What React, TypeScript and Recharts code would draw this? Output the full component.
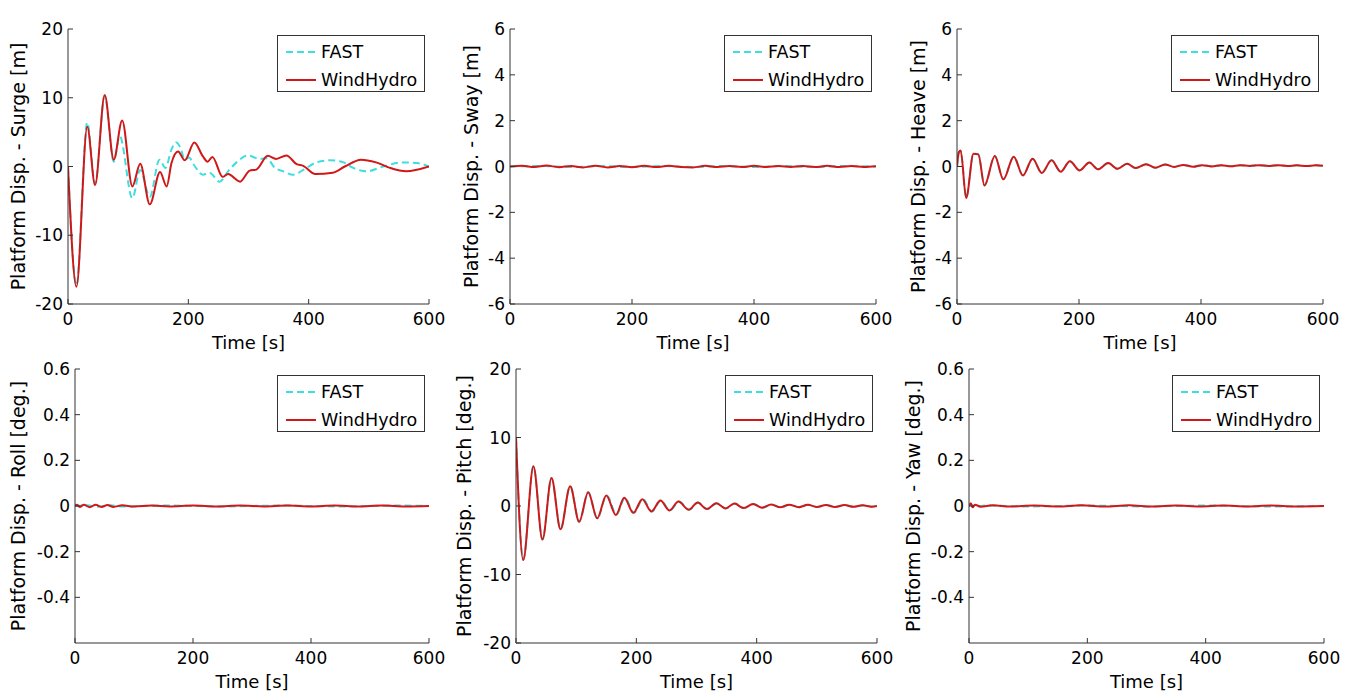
import { Legend, Line, LineChart, XAxis, YAxis } from 'recharts';

type Pair = [number, number];

// time axis shared by all six panels
const timeTicks = [0, 200, 400, 600];
const timeDomain: [number, number] = [0, 600];

const surgeTicks = [-20, -10, 0, 10, 20];
const swayTicks = [-6, -4, -2, 0, 2, 4, 6];
const heaveTicks = [-6, -4, -2, 0, 2, 4, 6];
const rollTicks = [-0.4, -0.2, 0, 0.2, 0.4, 0.6];
const pitchTicks = [-20, -10, 0, 10, 20];
const yawTicks = [-0.4, -0.2, 0, 0.2, 0.4, 0.6];

// [time s, displacement]
const surgeFast: Pair[] = [
  [0, 0], [14, -17.3], [32, 6.4], [45, -2.5], [61, 10.3], [76, 0.7], [86, 4.4], [107, -4.6],
  [120, -0.5], [136, -4.4], [152, 1.0], [162, -0.2], [172, 2.5], [180, 3.5], [187, 2.7],
  [194, 1.0], [201, 1.3], [211, 0], [224, -1.2], [235, -0.9], [252, -2.2], [266, -0.7],
  [280, 0.6], [299, 1.6], [319, 1.1], [330, 1.2], [344, -0.2], [358, -0.7], [374, -1.2],
  [391, -0.5], [413, 0.6], [435, 0.9], [455, 0.7], [474, -0.2], [496, -0.7], [524, 0],
  [557, 0.6], [580, 0.5], [600, 0],
];
const surgeHydro: Pair[] = [
  [0, 0], [14, -17.5], [32, 5.8], [45, -2.7], [61, 10.4], [76, 1.0], [90, 6.7], [107, -2.9],
  [120, 0.4], [136, -5.5], [153, -0.8], [164, -2.9], [172, 0.5], [183, 2.2], [194, 0.9],
  [210, 3.5], [224, 1.5], [232, 0.7], [240, 1.4], [257, -1.5], [266, -1.1], [286, -2.2],
  [302, -0.6], [313, -0.45], [332, 1.55], [346, 1.1], [363, 1.6], [380, 0.35], [391, 0.1],
  [411, -1.1], [440, -0.9], [460, 0], [487, 1.0], [512, 0.6], [535, -0.2], [562, -0.7],
  [600, 0],
];

const swayFast: Pair[] = [
  [0, 0], [50, 0.02], [100, -0.02], [150, 0.02], [200, -0.02], [250, 0.02], [300, -0.02],
  [350, 0.02], [400, -0.02], [450, 0.02], [500, -0.02], [550, 0.02], [600, 0],
];
const swayHydro: Pair[] = [
  [0, 0], [20, 0.03], [40, -0.02], [60, 0.04], [80, -0.03], [100, 0.02], [120, -0.04],
  [140, 0.03], [160, -0.04], [180, 0.02], [200, -0.03], [220, 0.03], [240, -0.02],
  [260, 0.03], [280, -0.02], [300, -0.04], [320, 0.03], [340, -0.02], [360, 0.02],
  [380, -0.02], [400, 0.03], [420, -0.02], [440, 0.02], [460, -0.02], [480, 0.02],
  [500, -0.02], [520, 0.03], [540, -0.02], [560, 0.02], [580, -0.02], [600, 0.01],
];

const heaveFast: Pair[] = [
  [0, 0], [3, 0.6], [6, 0.68], [15, -1.35], [27, 0.56], [35, 0.53], [45, -0.82], [62, 0.46],
  [76, -0.55], [93, 0.43], [108, -0.38], [124, 0.34], [139, -0.28], [155, 0.27], [170, -0.22],
  [185, 0.23], [201, -0.16], [217, 0.18], [231, -0.12], [248, 0.15], [263, -0.1], [279, 0.12],
  [293, -0.07], [310, 0.1], [325, -0.05], [341, 0.09], [356, -0.02], [371, 0.07], [387, 0],
  [402, 0.06], [418, 0.01], [433, 0.06], [449, 0.01], [464, 0.06], [480, 0.02], [495, 0.06],
  [511, 0.02], [526, 0.05], [542, 0.02], [557, 0.05], [573, 0.02], [588, 0.05], [600, 0.03],
];
const heaveHydro: Pair[] = [
  [0, 0], [3, 0.62], [6, 0.7], [15, -1.38], [27, 0.56], [35, 0.53], [45, -0.83], [62, 0.46],
  [76, -0.56], [93, 0.43], [108, -0.39], [124, 0.34], [139, -0.28], [155, 0.27], [170, -0.23],
  [185, 0.23], [201, -0.17], [217, 0.18], [231, -0.12], [248, 0.15], [263, -0.1], [279, 0.12],
  [293, -0.07], [310, 0.1], [325, -0.05], [341, 0.09], [356, -0.02], [371, 0.07], [387, -0.01],
  [402, 0.06], [418, 0], [433, 0.06], [449, 0.01], [464, 0.06], [480, 0.02], [495, 0.06],
  [511, 0.02], [526, 0.06], [542, 0.02], [557, 0.05], [573, 0.02], [588, 0.05], [600, 0.03],
];

const rollFast: Pair[] = [
  [0, 0], [20, 0.003], [40, -0.003], [60, 0.003], [80, -0.002], [150, 0.002], [250, -0.002],
  [350, 0.002], [450, -0.002], [550, 0.002], [600, 0],
];
const rollHydro: Pair[] = [
  [0, 0], [3, 0.006], [8, -0.004], [15, 0.005], [25, -0.005], [35, 0.005], [45, -0.004],
  [55, 0.004], [65, -0.004], [80, 0.003], [100, -0.002], [130, 0.002], [160, -0.002],
  [200, 0.002], [240, -0.002], [280, 0.002], [320, -0.002], [360, 0.002], [400, -0.002],
  [440, 0.002], [480, -0.002], [520, 0.002], [560, -0.002], [600, 0],
];

const pitchFast: Pair[] = [
  [0, 10], [12, -7.8], [29, 5.8], [44, -4.9], [59, 4.1], [74, -3.4], [90, 2.9], [105, -2.3],
  [120, 2.0], [135, -1.8], [151, 1.55], [167, -1.25], [181, 1.2], [196, -1.0], [211, 1.0],
  [226, -0.8], [241, 0.8], [256, -0.65], [271, 0.65], [288, -0.55], [303, 0.5], [318, -0.45],
  [334, 0.4], [349, -0.35], [364, 0.35], [379, -0.3], [395, 0.28], [410, -0.25], [425, 0.22],
  [440, -0.2], [455, 0.2], [471, -0.18], [486, 0.17], [501, -0.15], [516, 0.15], [531, -0.13],
  [547, 0.13], [562, -0.12], [577, 0.12], [592, -0.1], [600, 0],
];
const pitchHydro: Pair[] = [
  [0, 10], [12, -7.9], [29, 5.8], [44, -4.9], [59, 4.1], [74, -3.4], [90, 2.9], [105, -2.3],
  [120, 2.0], [135, -1.8], [150, 1.55], [166, -1.3], [180, 1.2], [195, -1.0], [210, 1.0],
  [225, -0.8], [240, 0.8], [255, -0.65], [270, 0.65], [287, -0.55], [302, 0.5], [317, -0.45],
  [333, 0.4], [348, -0.35], [363, 0.35], [378, -0.3], [394, 0.28], [409, -0.25], [424, 0.22],
  [439, -0.2], [454, 0.2], [470, -0.18], [485, 0.17], [500, -0.15], [515, 0.15], [530, -0.13],
  [546, 0.13], [561, -0.12], [576, 0.12], [591, -0.1], [600, 0],
];

const yawFast: Pair[] = [
  [0, 0], [4, 0.008], [8, -0.004], [30, 0.002], [100, -0.002], [200, 0.002], [300, -0.002],
  [400, 0.002], [500, -0.002], [600, 0],
];
const yawHydro: Pair[] = [
  [0, 0], [3, 0.012], [6, -0.006], [10, 0.005], [20, -0.003], [40, 0.003], [70, -0.002],
  [110, 0.002], [150, -0.002], [190, 0.003], [230, -0.002], [270, 0.003], [310, -0.002],
  [350, 0.002], [390, -0.002], [430, 0.002], [470, -0.002], [510, 0.002], [550, -0.002],
  [600, 0],
];

const FONT = '"DejaVu Sans", sans-serif';
const AXIS_W = 70;
const AXIS_H = 50;
const PAD_T = 10;
const PAD_R = 20;
const AXIS_COLOR = '#333';

const toPoints = (pairs: Pair[]) => pairs.map(([t, v]) => ({ t, v }));

function LegendBox({ payload }: any) {
  const items = payload ?? [];
  return (
    <div
      style={{
        width: 148,
        height: 57,
        boxSizing: 'border-box',
        border: `1px solid ${AXIS_COLOR}`,
        background: '#fff',
        position: 'relative',
        fontFamily: FONT,
        fontSize: 17.5,
        color: '#000',
      }}
    >
      {items.map((it: any, i: number) => (
        <div
          key={it.value}
          style={{ position: 'absolute', left: 8, top: 5 + i * 28, height: 22, display: 'flex', alignItems: 'center' }}
        >
          <svg width={30} height={4} style={{ display: 'block' }}>
            <line
              x1={0}
              y1={2}
              x2={30}
              y2={2}
              stroke={it.color}
              strokeWidth={2}
              strokeDasharray={it.payload?.strokeDasharray}
            />
          </svg>
          <span style={{ marginLeft: 5, lineHeight: '22px' }}>{it.value}</span>
        </div>
      ))}
    </div>
  );
}

const timeLabel = (props: any) => {
  const vb = props.viewBox;
  return (
    <text x={vb.x + vb.width / 2} y={vb.y + 38} textAnchor="middle" dominantBaseline="central" fontSize={18} fill="#000">
      Time [s]
    </text>
  );
};

interface Box {
  left: number;
  top: number;
  right: number;
  bottom: number;
}

interface PanelProps {
  box: Box;
  labelGap: number;
  yLabel: string;
  domain: [number, number];
  ticks: number[];
  fast: Pair[];
  hydro: Pair[];
}

function Panel({ box, labelGap, yLabel, domain, ticks, fast, hydro }: PanelProps) {
  const plotW = box.right - box.left;
  const plotH = box.bottom - box.top;

  const yLabelContent = (props: any) => {
    const vb = props.viewBox;
    const cx = vb.x + vb.width - labelGap;
    const cy = vb.y + vb.height / 2;
    return (
      <text
        x={cx}
        y={cy}
        transform={`rotate(-90 ${cx} ${cy})`}
        textAnchor="middle"
        dominantBaseline="central"
        fontSize={19}
        fill="#000"
      >
        {yLabel}
      </text>
    );
  };

  return (
    <div style={{ position: 'absolute', left: box.left - AXIS_W, top: box.top - PAD_T }}>
      <LineChart
        width={plotW + AXIS_W + PAD_R}
        height={plotH + PAD_T + AXIS_H}
        margin={{ top: PAD_T, right: PAD_R, bottom: 0, left: 0 }}
      >
        <XAxis
          xAxisId="b"
          dataKey="t"
          type="number"
          domain={timeDomain}
          ticks={timeTicks}
          interval={0}
          allowDataOverflow
          height={AXIS_H}
          tickSize={-5}
          tickMargin={14}
          stroke={AXIS_COLOR}
          tick={{ fill: '#000', fontSize: 17 }}
          label={timeLabel}
        />
        <XAxis
          xAxisId="top"
          orientation="top"
          dataKey="t"
          type="number"
          domain={timeDomain}
          ticks={timeTicks}
          interval={0}
          allowDataOverflow
          height={0}
          tickSize={-5}
          tick={false}
          stroke={AXIS_COLOR}
        />
        <YAxis
          yAxisId="l"
          type="number"
          domain={domain}
          ticks={ticks}
          interval={0}
          allowDataOverflow
          width={AXIS_W}
          tickSize={-5}
          tickMargin={10}
          stroke={AXIS_COLOR}
          tick={{ fill: '#000', fontSize: 17 }}
          label={yLabelContent}
        />
        <YAxis
          yAxisId="r"
          orientation="right"
          type="number"
          domain={domain}
          ticks={ticks}
          interval={0}
          allowDataOverflow
          width={0}
          tickSize={-5}
          tick={false}
          stroke={AXIS_COLOR}
        />
        <Legend
          layout="vertical"
          align="center"
          verticalAlign="middle"
          wrapperStyle={{ left: plotW + AXIS_W - 4 - 148, top: PAD_T + 6, width: 148 }}
          content={LegendBox}
        />
        <Line
          xAxisId="b"
          yAxisId="l"
          name="FAST"
          data={toPoints(fast)}
          dataKey="v"
          type="monotone"
          stroke="#3fdede"
          strokeWidth={2}
          strokeDasharray="7 4"
          dot={false}
          isAnimationActive={false}
        />
        <Line
          xAxisId="b"
          yAxisId="l"
          name="WindHydro"
          data={toPoints(hydro)}
          dataKey="v"
          type="monotone"
          stroke="#d01818"
          strokeWidth={2}
          dot={false}
          isAnimationActive={false}
        />
      </LineChart>
    </div>
  );
}

export default function App() {
  return (
    <div style={{ position: 'absolute', left: 0, top: 0, width: 1370, height: 696, background: '#fff', fontFamily: FONT }}>
      <Panel
        box={{ left: 68, top: 29, right: 429, bottom: 304 }}
        labelGap={50.5}
        yLabel="Platform Disp. - Surge [m]"
        domain={[-20, 20]}
        ticks={surgeTicks}
        fast={surgeFast}
        hydro={surgeHydro}
      />
      <Panel
        box={{ left: 510, top: 29, right: 876, bottom: 304 }}
        labelGap={39.5}
        yLabel="Platform Disp. - Sway [m]"
        domain={[-6, 6]}
        ticks={swayTicks}
        fast={swayFast}
        hydro={swayHydro}
      />
      <Panel
        box={{ left: 957, top: 29, right: 1323, bottom: 304 }}
        labelGap={39.5}
        yLabel="Platform Disp. - Heave [m]"
        domain={[-6, 6]}
        ticks={heaveTicks}
        fast={heaveFast}
        hydro={heaveHydro}
      />
      <Panel
        box={{ left: 75, top: 369, right: 429, bottom: 643 }}
        labelGap={57}
        yLabel="Platform Disp. - Roll [deg.]"
        domain={[-0.6, 0.6]}
        ticks={rollTicks}
        fast={rollFast}
        hydro={rollHydro}
      />
      <Panel
        box={{ left: 516, top: 369, right: 877, bottom: 643 }}
        labelGap={52}
        yLabel="Platform Disp. - Pitch [deg.]"
        domain={[-20, 20]}
        ticks={pitchTicks}
        fast={pitchFast}
        hydro={pitchHydro}
      />
      <Panel
        box={{ left: 969, top: 369, right: 1324, bottom: 643 }}
        labelGap={56}
        yLabel="Platform Disp. - Yaw [deg.]"
        domain={[-0.6, 0.6]}
        ticks={yawTicks}
        fast={yawFast}
        hydro={yawHydro}
      />
    </div>
  );
}
